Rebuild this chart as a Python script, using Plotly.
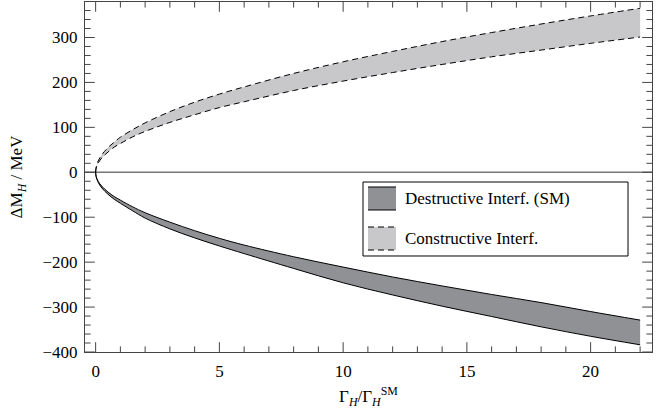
import plotly.graph_objects as go

# Γ_H / Γ_H^SM sample points
x_vals = [0, 0.02, 0.1, 0.25, 0.5, 0.75, 1, 1.5, 2, 3, 4, 5, 6, 8, 10, 12, 14, 16, 18, 20, 22]

# Constructive interference band (upper)
cons_top = [0, 11, 25, 39, 55, 67, 78, 95, 110, 135, 156, 174, 190, 220, 246, 269, 291, 311, 330, 348, 365]
cons_bot = [0, 9, 20, 32, 45, 56, 64, 79, 91, 111, 128, 144, 157, 182, 203, 222, 240, 257, 272, 287, 301]

# Destructive interference band (lower, SM)
dest_top = [0, -9, -20, -31, -44, -54, -62, -77, -90, -111, -130, -147, -162, -188, -211, -233, -253, -272, -290, -310, -329]
dest_bot = [0, -10, -22, -35, -49, -60, -69, -86, -102, -126, -146, -164, -181, -214, -246, -273, -298, -321, -344, -365, -384]

names = ["Destructive Interf. (SM)", "Constructive Interf."]
x_ticks = [0, 5, 10, 15, 20]
y_ticks = [-400, -300, -200, -100, 0, 100, 200, 300]
y_ticktext = ["−400", "−300", "−200", "−100", "0", "100", "200", "300"]
x_minor = [v for v in range(0, 23) if v not in x_ticks]
y_minor = [v for v in range(-400, 380, 20) if v not in y_ticks]

XR = [-0.43, 22.48]
YR = [-400, 379]

DARK = "#909195"
LIGHT = "#c8c8ca"
DASH = "6px,4px"
TICK = "#444444"
font = "Liberation Serif, Times New Roman, serif"

fig = go.Figure()

# zero line
fig.add_trace(go.Scatter(x=XR, y=[0, 0], mode="lines",
                         line=dict(color="#777777", width=1.5), showlegend=False, hoverinfo="skip"))

# Destructive band
fig.add_trace(go.Scatter(x=x_vals, y=dest_bot, mode="lines", line=dict(color="black", width=1, shape="spline"),
                         showlegend=False))
fig.add_trace(go.Scatter(x=x_vals, y=dest_top, mode="lines", line=dict(color="black", width=1, shape="spline"),
                         fill="tonexty", fillcolor=DARK, name=names[0], showlegend=False))

# Constructive band
fig.add_trace(go.Scatter(x=x_vals, y=cons_bot, mode="lines",
                         line=dict(color="black", width=1, dash=DASH, shape="spline"), showlegend=False))
fig.add_trace(go.Scatter(x=x_vals, y=cons_top, mode="lines",
                         line=dict(color="black", width=1, dash=DASH, shape="spline"),
                         fill="tonexty", fillcolor=LIGHT, name=names[1], showlegend=False))


# frame tick marks (half of each marker is clipped by the plot area -> inside ticks)
def tick_trace(xs, ys, symbol, size):
    return go.Scatter(x=xs, y=ys, mode="markers", cliponaxis=True, showlegend=False, hoverinfo="skip",
                      marker=dict(symbol=symbol, size=size, color=TICK, line=dict(width=1, color=TICK)))


for yy in YR:
    fig.add_trace(tick_trace(x_ticks, [yy] * len(x_ticks), "line-ns", 14))
    fig.add_trace(tick_trace(x_minor, [yy] * len(x_minor), "line-ns", 8))
for xx in XR:
    fig.add_trace(tick_trace([xx] * len(y_ticks), y_ticks, "line-ew", 14))
    fig.add_trace(tick_trace([xx] * len(y_minor), y_minor, "line-ew", 8))

axis_common = dict(showgrid=False, zeroline=False, showline=True, linecolor=TICK, linewidth=1,
                   mirror=True, ticks="", automargin=False,
                   tickfont=dict(family=font, size=17, color="black"))

fig.update_layout(
    xaxis=dict(range=XR, tickmode="array", tickvals=x_ticks, ticklabelstandoff=4,
               title=dict(text="Γ<sub><i>H</i></sub>/Γ<sub><i>H</i></sub><sup>SM</sup>",
                          font=dict(family=font, size=17, color="black")),
               **axis_common),
    yaxis=dict(range=YR, tickmode="array", tickvals=y_ticks, ticktext=y_ticktext, ticklabelstandoff=3,
               title=dict(text="ΔM<sub><i>H</i></sub> / MeV",
                          font=dict(family=font, size=17, color="black")),
               **axis_common),
    width=669, height=409, margin=dict(l=85, r=17, t=2, b=57),
    plot_bgcolor="white", paper_bgcolor="white",
    showlegend=False,
)

# custom legend box (paper coordinates)
shapes = [
    dict(type="rect", xref="paper", yref="paper", x0=0.4903, x1=0.9577, y0=0.2743, y1=0.4857,
         fillcolor="white", line=dict(color="black", width=1), layer="above"),
    # destructive swatch
    dict(type="rect", xref="paper", yref="paper", x0=0.4991, x1=0.5485, y0=0.4057, y1=0.4714,
         fillcolor=DARK, line=dict(width=0), layer="above"),
    dict(type="line", xref="paper", yref="paper", x0=0.4991, x1=0.5485, y0=0.4714, y1=0.4714,
         line=dict(color="black", width=1), layer="above"),
    dict(type="line", xref="paper", yref="paper", x0=0.4991, x1=0.5485, y0=0.4057, y1=0.4057,
         line=dict(color="black", width=1), layer="above"),
    # constructive swatch
    dict(type="rect", xref="paper", yref="paper", x0=0.4991, x1=0.5485, y0=0.2914, y1=0.3571,
         fillcolor=LIGHT, line=dict(width=0), layer="above"),
    dict(type="line", xref="paper", yref="paper", x0=0.4991, x1=0.5485, y0=0.3571, y1=0.3571,
         line=dict(color="black", width=1, dash=DASH), layer="above"),
    dict(type="line", xref="paper", yref="paper", x0=0.4991, x1=0.5485, y0=0.2914, y1=0.2914,
         line=dict(color="black", width=1, dash=DASH), layer="above"),
]
annotations = [
    dict(text=names[0], xref="paper", yref="paper", x=0.5608, y=0.44, xanchor="left", yanchor="middle",
         showarrow=False, font=dict(family=font, size=17, color="black")),
    dict(text=names[1], xref="paper", yref="paper", x=0.5608, y=0.3257, xanchor="left", yanchor="middle",
         showarrow=False, font=dict(family=font, size=17, color="black")),
]
fig.update_layout(shapes=shapes, annotations=annotations)

fig.write_html("out.html", config={"displayModeBar": False},
               post_script="document.body.style.margin='0';")
